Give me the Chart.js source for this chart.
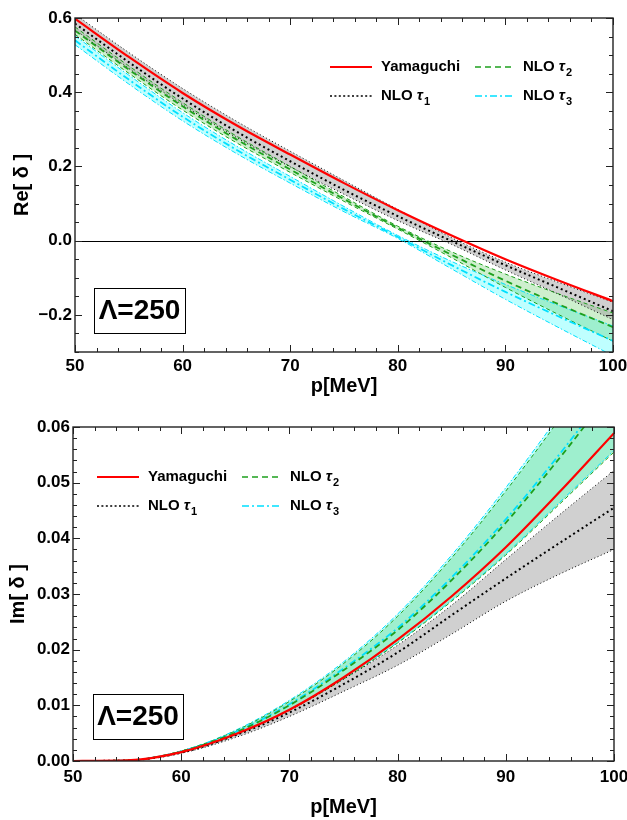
<!DOCTYPE html>
<html>
<head>
<meta charset="utf-8">
<script src="https://cdn.jsdelivr.net/npm/chart.js@4.4.0/dist/chart.umd.min.js"></script>
<style>
  html, body { margin: 0; padding: 0; background: #fff; }
  #wrap { position: relative; width: 627px; height: 820px; }
  canvas { position: absolute; left: 0; }
  #chart-re { top: 0; }
  #chart-im { top: 400px; }
</style>
</head>
<body>
<div id="wrap">
  <canvas id="chart-re" width="627" height="400"></canvas>
  <canvas id="chart-im" width="627" height="420"></canvas>
</div>
<script>
// momentum grid p [MeV]
var momenta = [50, 55, 60, 65, 70, 75, 80, 85, 90, 95, 100];
var seriesLabels = ['Yamaguchi', 'NLO τ1', 'NLO τ2', 'NLO τ3'];
var xTicks = [50, 60, 70, 80, 90, 100];
var reTicks = [-0.2, 0.0, 0.2, 0.4, 0.6];
var imTicks = [0.00, 0.01, 0.02, 0.03, 0.04, 0.05, 0.06];

// Re[delta]
var reYamaguchi = [0.598, 0.495, 0.398, 0.311, 0.232, 0.155, 0.082, 0.014, -0.050, -0.108, -0.163];
var reTau1 = [0.585, 0.481, 0.383, 0.294, 0.214, 0.137, 0.066, -0.001, -0.066, -0.128, -0.190];
var reTau1Hi = [0.610, 0.507, 0.410, 0.322, 0.241, 0.162, 0.084, 0.008, -0.058, -0.113, -0.166];
var reTau1Lo = [0.568, 0.464, 0.366, 0.278, 0.199, 0.125, 0.054, -0.010, -0.079, -0.145, -0.213];
var reTau2 = [0.566, 0.461, 0.362, 0.273, 0.192, 0.112, 0.035, -0.038, -0.108, -0.172, -0.233];
var reTau2Hi = [0.576, 0.471, 0.372, 0.282, 0.200, 0.118, 0.039, -0.030, -0.090, -0.144, -0.195];
var reTau2Lo = [0.556, 0.451, 0.352, 0.264, 0.184, 0.106, 0.031, -0.046, -0.126, -0.200, -0.271];
var reTau3 = [0.540, 0.434, 0.334, 0.245, 0.164, 0.085, 0.010, -0.066, -0.138, -0.205, -0.270];
var reTau3Hi = [0.552, 0.446, 0.345, 0.255, 0.173, 0.092, 0.014, -0.056, -0.118, -0.175, -0.230];
var reTau3Lo = [0.528, 0.422, 0.323, 0.235, 0.155, 0.078, 0.006, -0.076, -0.158, -0.235, -0.310];

// Im[delta]
var imYamaguchi = [0, 0.0001, 0.0016, 0.0048, 0.0092, 0.0150, 0.0218, 0.0296, 0.0384, 0.0484, 0.0589];
var imTau1 = [0, 0.0001, 0.0015, 0.0046, 0.0087, 0.0138, 0.0195, 0.0262, 0.0328, 0.0392, 0.0455];
var imTau1Hi = [0, 0.0001, 0.0016, 0.0048, 0.0091, 0.0147, 0.0208, 0.0280, 0.0362, 0.0443, 0.0522];
var imTau1Lo = [0, 0.0001, 0.0014, 0.0042, 0.0080, 0.0125, 0.0172, 0.0228, 0.0287, 0.0336, 0.0380];
var imTau2 = [0, 0.0001, 0.0017, 0.0051, 0.0100, 0.0163, 0.0235, 0.0325, 0.0428, 0.0545, 0.0670];
var imTau2Hi = [0, 0.0001, 0.0018, 0.0054, 0.0107, 0.0175, 0.0260, 0.0365, 0.0485, 0.0615, 0.0750];
var imTau2Lo = [0, 0.0001, 0.0016, 0.0047, 0.0091, 0.0147, 0.0212, 0.0287, 0.0370, 0.0462, 0.0555];
var imTau3 = [0, 0.0001, 0.0017, 0.0052, 0.0102, 0.0166, 0.0239, 0.0330, 0.0434, 0.0552, 0.0678];
var imTau3Hi = [0, 0.0001, 0.0018, 0.0055, 0.0109, 0.0178, 0.0264, 0.0370, 0.0491, 0.0622, 0.0757];
var imTau3Lo = [0, 0.0001, 0.0016, 0.0047, 0.0092, 0.0148, 0.0213, 0.0289, 0.0372, 0.0465, 0.0558];

var FAMILY = '"Liberation Sans", Arial, Helvetica, sans-serif';
var RED = '#ff0000', BLACK = '#000000', GREEN = '#1ea01e', CYAN = '#00e0ff';

function points(values) {
    return momenta.map(function(p, i) { return { x: p, y: values[i] }; });
}

function curve(label, values, color, width, dash) {
    return {
        label: label, data: points(values), borderColor: color, borderWidth: width,
        borderDash: dash, pointRadius: 0, fill: false, cubicInterpolationMode: 'monotone'
    };
}

// band edges: upper edge fills down to the lower edge that follows it
function edge(values, color, dash, fillColor) {
    var d = curve('', values, color, 1, dash);
    if (fillColor) {
        d.fill = '+1';
        d.backgroundColor = fillColor;
    }
    return d;
}

function buildDatasets(yam, t1, t1h, t1l, t2, t2h, t2l, t3, t3h, t3l) {
    return [
        curve(seriesLabels[0], yam, RED, 2.2, []),
        curve(seriesLabels[1], t1, BLACK, 2, [2, 3]),
        curve(seriesLabels[2], t2, GREEN, 1.8, [6, 4]),
        curve(seriesLabels[3], t3, CYAN, 1.8, [7, 3, 2, 3]),
        edge(t1h, BLACK, [1, 2.5], 'rgba(150,150,150,0.45)'),
        edge(t1l, BLACK, [1, 2.5]),
        edge(t2h, GREEN, [4, 3], 'rgba(60,190,60,0.25)'),
        edge(t2l, GREEN, [4, 3]),
        edge(t3h, CYAN, [5, 2, 1.5, 2], 'rgba(0,255,255,0.25)'),
        edge(t3l, CYAN, [5, 2, 1.5, 2])
    ];
}

function isMajor(scale, v) {
    return scale.ticks.some(function(t) { return Math.abs(t.value - v) < 1e-9; });
}

// boxed frame with inward ticks on all four sides
var framePlugin = {
    id: 'frameTicks',
    beforeDatasetsDraw: function(chart, args, opts) {
        if (!opts.zeroLine) return;
        var ctx = chart.ctx, a = chart.chartArea;
        var y0 = Math.round(chart.scales.y.getPixelForValue(0)) + 0.5;
        ctx.save();
        ctx.strokeStyle = '#000';
        ctx.lineWidth = 1;
        ctx.beginPath();
        ctx.moveTo(a.left, y0);
        ctx.lineTo(a.right, y0);
        ctx.stroke();
        ctx.restore();
    },
    afterDatasetsDraw: function(chart, args, opts) {
        var ctx = chart.ctx, a = chart.chartArea;
        var xs = chart.scales.x, ys = chart.scales.y;
        var i, v, p, len, n;
        ctx.save();
        ctx.strokeStyle = '#222';
        ctx.lineWidth = 1.4;
        ctx.strokeRect(a.left, a.top, a.right - a.left, a.bottom - a.top);
        ctx.lineWidth = 1;
        ctx.beginPath();
        n = Math.round((xs.max - xs.min) / opts.xMinor);
        for (i = 0; i <= n; i++) {
            v = xs.min + i * opts.xMinor;
            p = Math.round(xs.getPixelForValue(v)) + 0.5;
            len = isMajor(xs, v) ? opts.major : opts.minor;
            ctx.moveTo(p, a.bottom); ctx.lineTo(p, a.bottom - len);
            ctx.moveTo(p, a.top); ctx.lineTo(p, a.top + len);
        }
        n = Math.round((ys.max - ys.min) / opts.yMinor);
        for (i = 0; i <= n; i++) {
            v = ys.min + i * opts.yMinor;
            p = Math.round(ys.getPixelForValue(v)) + 0.5;
            len = isMajor(ys, v) ? opts.major : opts.minor;
            ctx.moveTo(a.left, p); ctx.lineTo(a.left + len, p);
            ctx.moveTo(a.right, p); ctx.lineTo(a.right - len, p);
        }
        ctx.stroke();
        ctx.restore();
    }
};

function drawSeriesLabel(ctx, text, x, y) {
    var m = text.match(/^(.*)τ(\d)$/);
    ctx.fillStyle = '#000';
    ctx.textBaseline = 'middle';
    ctx.textAlign = 'left';
    ctx.font = 'bold 15px ' + FAMILY;
    if (!m) {
        ctx.fillText(text, x, y);
        return;
    }
    ctx.fillText(m[1], x, y);
    x += ctx.measureText(m[1]).width;
    ctx.font = 'italic bold 15px ' + FAMILY;
    ctx.fillText('τ', x, y);
    x += ctx.measureText('τ').width + 1;
    ctx.font = 'bold 11px ' + FAMILY;
    ctx.fillText(m[2], x, y + 6);
}

// two-column legend inside the frame, plus the cutoff box
var notesPlugin = {
    id: 'notes',
    afterDraw: function(chart, args, opts) {
        var ctx = chart.ctx, a = chart.chartArea;
        var x0 = a.left + opts.legendX, y0 = a.top + opts.legendY;
        ctx.save();
        for (var i = 0; i < 4; i++) {
            var ds = chart.data.datasets[i];
            var col = i < 2 ? 0 : 1, row = i % 2;
            var x = x0 + col * opts.colGap, y = y0 + row * opts.rowGap;
            var len = col === 0 ? 42 : 39;
            ctx.strokeStyle = ds.borderColor;
            ctx.lineWidth = i === 0 ? 2 : 1.6;
            ctx.setLineDash(i === 1 ? [2, 2.4] : ds.borderDash);
            ctx.beginPath();
            ctx.moveTo(x, y);
            ctx.lineTo(x + len, y);
            ctx.stroke();
            drawSeriesLabel(ctx, ds.label, x + len + 9, y);
        }
        ctx.setLineDash([]);
        var bx = a.left + opts.boxX, by = a.bottom - opts.boxBottom;
        ctx.strokeStyle = '#000';
        ctx.lineWidth = 1;
        ctx.strokeRect(bx + 0.5, by + 0.5, opts.boxW, opts.boxH);
        ctx.fillStyle = '#000';
        ctx.font = 'bold 28px ' + FAMILY;
        ctx.textAlign = 'center';
        ctx.textBaseline = 'middle';
        ctx.fillText(opts.boxText, bx + opts.boxW / 2, by + opts.boxH / 2 + 1);
        ctx.restore();
    }
};

function initChart(canvasId, datasets, yRange, yTicks, yMinor, yTitle, decimals, sizes) {
    var tickFont = { family: FAMILY, size: 17, weight: 'bold' };
    var titleFont = { family: FAMILY, size: 20, weight: 'bold' };
    return new Chart(document.getElementById(canvasId), {
        type: 'line',
        data: { datasets: datasets },
        options: {
            responsive: false,
            animation: false,
            layout: { padding: { top: sizes.top, right: sizes.right, left: 0, bottom: 0 } },
            plugins: {
                legend: { display: false },
                tooltip: { enabled: false },
                filler: { drawTime: 'beforeDatasetsDraw' },
                frameTicks: { xMinor: 2, yMinor: yMinor, major: 7, minor: 4, zeroLine: sizes.zeroLine },
                notes: sizes.notes
            },
            scales: {
                x: {
                    type: 'linear', min: 50, max: 100,
                    grid: { display: false, drawTicks: false },
                    border: { display: false },
                    ticks: { padding: sizes.xPad, font: tickFont, color: '#000', maxRotation: 0 },
                    afterBuildTicks: function(s) { s.ticks = xTicks.map(function(v) { return { value: v }; }); },
                    afterFit: function(s) { s.height = sizes.xHeight; s.paddingLeft = 0; s.paddingRight = 0; },
                    title: { display: true, text: 'p[MeV]', font: titleFont, color: '#000', padding: { top: 0, bottom: sizes.xTitlePad } }
                },
                y: {
                    min: yRange[0], max: yRange[1],
                    grid: { display: false, drawTicks: false },
                    border: { display: false },
                    ticks: {
                        padding: 3, font: tickFont, color: '#000',
                        callback: function(v) { return Number(v).toFixed(decimals).replace('-', '\u2212'); }
                    },
                    afterBuildTicks: function(s) { s.ticks = yTicks.map(function(v) { return { value: v }; }); },
                    afterFit: function(s) { s.width = sizes.yWidth; s.paddingTop = 0; s.paddingBottom = 0; },
                    title: { display: true, text: yTitle, font: titleFont, color: '#000', padding: { top: sizes.yTitlePad, bottom: 0 } }
                }
            }
        },
        plugins: [framePlugin, notesPlugin]
    });
}

initChart('chart-re',
    buildDatasets(reYamaguchi, reTau1, reTau1Hi, reTau1Lo, reTau2, reTau2Hi, reTau2Lo, reTau3, reTau3Hi, reTau3Lo),
    [-0.3, 0.6], reTicks, 0.05, 'Re[ δ ]', 1,
    {
        top: 18, right: 14, xHeight: 48, yWidth: 75, xPad: 4, xTitlePad: 2, yTitlePad: 10, zeroLine: true,
        notes: { legendX: 255, legendY: 49, colGap: 145, rowGap: 29, boxX: 19, boxBottom: 64, boxW: 91, boxH: 45, boxText: 'Λ=250' }
    });

initChart('chart-im',
    buildDatasets(imYamaguchi, imTau1, imTau1Hi, imTau1Lo, imTau2, imTau2Hi, imTau2Lo, imTau3, imTau3Hi, imTau3Lo),
    [0, 0.06], imTicks, 0.002, 'Im[ δ ]', 2,
    {
        top: 27, right: 13, xHeight: 59, yWidth: 73, xPad: 6, xTitlePad: 1, yTitlePad: 6, zeroLine: false,
        notes: { legendX: 24, legendY: 50, colGap: 145, rowGap: 29, boxX: 20, boxBottom: 67, boxW: 90, boxH: 45, boxText: 'Λ=250' }
    });
</script>
</body>
</html>
